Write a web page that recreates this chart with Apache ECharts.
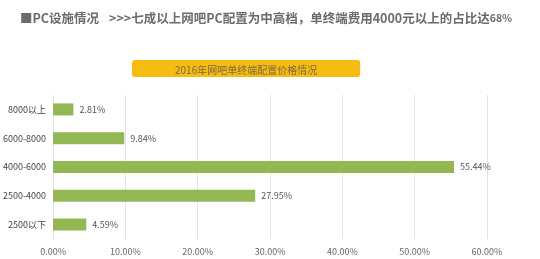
<!DOCTYPE html>
<html><head><meta charset="utf-8">
<script src="https://cdn.jsdelivr.net/npm/echarts@6/dist/echarts.min.js"></script>
<style>html,body{margin:0;padding:0;background:#fff}#c{width:540px;height:259px}</style>
</head><body><div id="c"></div>
<script>
var categories = ['2500以下', '2500-4000', '4000-6000', '6000-8000', '8000以上'];
var values = [4.59, 27.95, 55.44, 9.84, 2.81];
var xTicks = [0, 10, 20, 30, 40, 50, 60];

var chart = echarts.init(document.getElementById('c'), null, {renderer: 'canvas'});
var font = '"Noto Sans CJK SC", "Microsoft YaHei", sans-serif';
chart.setOption({
  animation: false,
  backgroundColor: '#fff',
  title: [{
    text: '{a|■PC设施情况}  {b|>>>七成以上网吧PC配置为中高档，单终端费用4000元以上的占比达}{c|68%}',
    left: 15, top: 4,
    textStyle: {
      rich: {
        a: {fontSize: 12.5, fontWeight: 'bold', color: '#6b6b6b', fontFamily: font},
        b: {fontSize: 12.5, fontWeight: 'bold', color: '#6b6b6b', fontFamily: font},
        c: {fontSize: 10.5, fontWeight: 'bold', color: '#6b6b6b', fontFamily: font}
      }
    }
  }, {
    text: '2016年网吧单终端配置价格情况',
    left: 132, top: 60,
    backgroundColor: '#F6BC12',
    borderRadius: 3,
    padding: [4, 43, 1, 43],
    textStyle: {fontSize: 10, fontWeight: 'normal', color: '#7a6a40', fontFamily: font, lineHeight: 12}
  }],
  grid: {left: 47, right: 53, top: 95, bottom: 20, containLabel: false},
  xAxis: {
    type: 'value', min: 0, max: 60, interval: 10,
    axisLine: {show: false}, axisTick: {show: false},
    splitLine: {lineStyle: {color: '#e3e3e3', width: 1}},
    axisLabel: {formatter: function(v){return v.toFixed(2) + '%';}, fontSize: 9, color: '#666', fontFamily: font, margin: 8}
  },
  yAxis: {
    type: 'category', data: categories,
    axisLine: {show: false}, axisTick: {show: false},
    axisLabel: {fontSize: 9, color: '#444', fontFamily: font, margin: 7}
  },
  series: [{
    type: 'bar', data: values, barWidth: 12,
    itemStyle: {color: '#93B752'},
    label: {show: true, position: 'right', distance: 6, fontSize: 9, color: '#555', fontFamily: font,
      formatter: function(p){return p.value.toFixed(2) + '%';}}
  }]
});
</script></body></html>
